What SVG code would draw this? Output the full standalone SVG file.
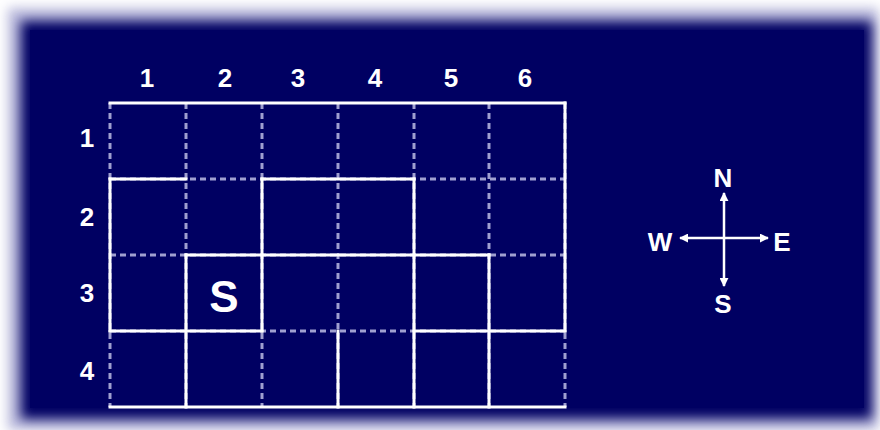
<svg xmlns="http://www.w3.org/2000/svg" width="880" height="430" viewBox="0 0 880 430">
<style>
.lbl{font-family:"Liberation Sans",Arial,sans-serif;font-weight:bold;fill:#ffffff;text-anchor:middle}
.num{font-size:26px}
.big{font-size:44px}
.dash{stroke:#a0a0d0;stroke-width:3;stroke-dasharray:6 4;fill:none}
.wall{stroke:#ffffff;stroke-width:3;stroke-linecap:square;fill:none}
.arr{stroke:#ffffff;stroke-width:2.5;fill:none}
</style>
<defs>
<filter id="blur" x="-5%" y="-5%" width="110%" height="110%">
<feGaussianBlur stdDeviation="6"/>
</filter>
<marker id="ah" viewBox="0 0 10 10" refX="9" refY="5" markerWidth="3.6" markerHeight="3.6" orient="auto" markerUnits="strokeWidth">
<path d="M0,0 L10,5 L0,10 Z" fill="#ffffff"/>
</marker>
</defs>
<rect width="880" height="430" fill="#ffffff"/>
<rect x="8" y="8" width="870" height="422" fill="#b8b8dc" filter="url(#blur)"/>
<rect x="21" y="21" width="851" height="398" fill="#000062" filter="url(#blur)"/>
<rect x="30" y="30" width="834" height="378" fill="#000062"/>
<g id="grid-dashed">
<path class="dash" d="M110,103V407 M186,103V407 M262,103V407 M338,103V407 M414,103V407 M489,103V407 M565,103V407 M110,179H565 M110,255H565 M110,331H565"/>
</g>
<g id="walls">
<path class="wall" d="M110,103H565 M110,179H186 M262,179H414 M186,255H489 M110,331H262 M414,331H565 M110,407H565"/>
<path class="wall" d="M110,179V331 M186,255V407 M262,179V331 M338,331V407 M414,179V407 M489,255V407 M565,103V331"/>
</g>
<g id="col-labels">
<text class="lbl num" x="147" y="87">1</text>
<text class="lbl num" x="225" y="87">2</text>
<text class="lbl num" x="298" y="87">3</text>
<text class="lbl num" x="375" y="87">4</text>
<text class="lbl num" x="451" y="87">5</text>
<text class="lbl num" x="525" y="87">6</text>
</g>
<g id="row-labels">
<text class="lbl num" x="87" y="147">1</text>
<text class="lbl num" x="87" y="226">2</text>
<text class="lbl num" x="87" y="302">3</text>
<text class="lbl num" x="87" y="380">4</text>
</g>
<g id="start">
<text class="lbl big" x="224" y="312">S</text>
</g>
<g id="compass">
<g id="compass-arrows">
<line class="arr" x1="724" y1="238" x2="724" y2="193" marker-end="url(#ah)"/>
<line class="arr" x1="724" y1="238" x2="724" y2="286" marker-end="url(#ah)"/>
<line class="arr" x1="724" y1="238" x2="680" y2="238" marker-end="url(#ah)"/>
<line class="arr" x1="724" y1="238" x2="768" y2="238" marker-end="url(#ah)"/>
</g>
<text class="lbl num" x="723" y="187">N</text>
<text class="lbl num" x="723" y="313">S</text>
<text class="lbl num" x="660" y="251">W</text>
<text class="lbl num" x="782" y="251">E</text>
</g>
</svg>
